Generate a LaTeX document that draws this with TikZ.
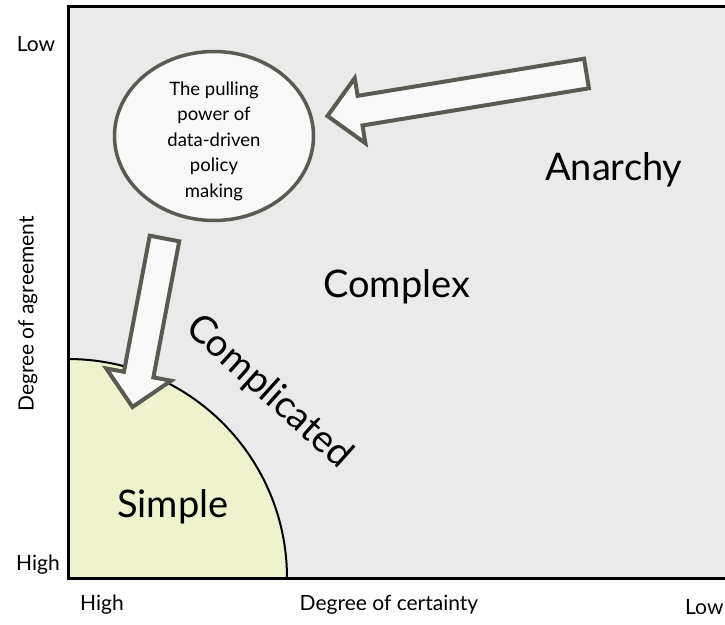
\documentclass[tikz,border=0pt]{standalone}
\usepackage{fontspec}
\setmainfont{Lato}
\usetikzlibrary{calc,shapes.geometric}
\definecolor{bggrey}{HTML}{EAEAEA}
\definecolor{simplefill}{HTML}{EEF2CD}
\definecolor{boxfill}{HTML}{F8F8F8}
\definecolor{boxline}{HTML}{5B5A52}
\tikzset{
  frameline/.style={line width=3pt, black},
  arcline/.style={line width=2pt, black},
  arrowbox/.style={fill=boxfill, draw=boxline, line width=4pt, line join=miter},
  bubble/.style={ellipse, draw=boxline, fill=boxfill, line width=3.5pt, minimum width=199pt, minimum height=169pt, inner sep=0pt},
  bubbletext/.style={align=center, font=\fontsize{18.5}{25.5}\selectfont, inner sep=0pt},
  bigtext/.style={font=\fontsize{38}{40}\selectfont, inner sep=0pt},
  axistext/.style={font=\fontsize{21}{24}\selectfont, inner sep=0pt}
}
\newcommand\blockarrow[3]{%
  \coordinate (#3b) at ($(#2)!33pt!(#1)$);
  \filldraw[arrowbox]
    ($(#1)!15pt!90:(#2)$) --
    ($(#3b)!15pt!90:(#2)$) --
    ($(#3b)!33pt!90:(#2)$) --
    (#2) --
    ($(#3b)!33pt!-90:(#2)$) --
    ($(#3b)!15pt!-90:(#2)$) --
    ($(#1)!15pt!-90:(#2)$) -- cycle;
}
\begin{document}
\begin{tikzpicture}[x=1pt,y=-1pt]
\useasboundingbox (0,0) rectangle (725,624);
\fill[white] (0,0) rectangle (725,624);
\fill[bggrey] (68,6) rectangle (725,578);
% simple region
\fill[simplefill] (68,578) -- (287,578) arc[start angle=0,end angle=90,radius=219pt] -- cycle;
\draw[arcline] (287,578) arc[start angle=0,end angle=90,radius=219pt];
% frame
\draw[frameline] (725,6) -- (68.5,6) -- (68.5,578) -- (725,578);
% bubble
\node[bubble] (bub) at (214,136) {};
\node[bubbletext] (bubtext) at (214,141) {The pulling\\power of\\data-driven\\policy\\making};
% arrows
\coordinate (t1) at (586.5,73.5);
\coordinate (p1) at (327.5,116);
\blockarrow{t1}{p1}{a1}
\coordinate (t2) at (164.5,238.5);
\coordinate (p2) at (132.5,407);
\blockarrow{t2}{p2}{a2}
% region labels
\node[bigtext, anchor=base west] (anarchy) at (545,180) {Anarchy};
\node[bigtext, anchor=base west] (complex) at (323,297) {Complex};
\node[bigtext, anchor=base west] (simple) at (117,517) {Simple};
\node[bigtext, rotate=-42] (complicated) at (269,392) {Complicated};
% axis labels
\node[axistext] (lowy) at (36,44) {Low};
\node[axistext] (highy) at (38,565) {High};
\node[axistext] (highx) at (102,605) {High};
\node[axistext] (xlabel) at (389,605) {Degree of certainty};
\node[axistext, anchor=west] (lowx) at (685,607) {Low};
\node[axistext, rotate=90] (ylabel) at (28,314) {Degree of agreement};
\end{tikzpicture}
\end{document}
